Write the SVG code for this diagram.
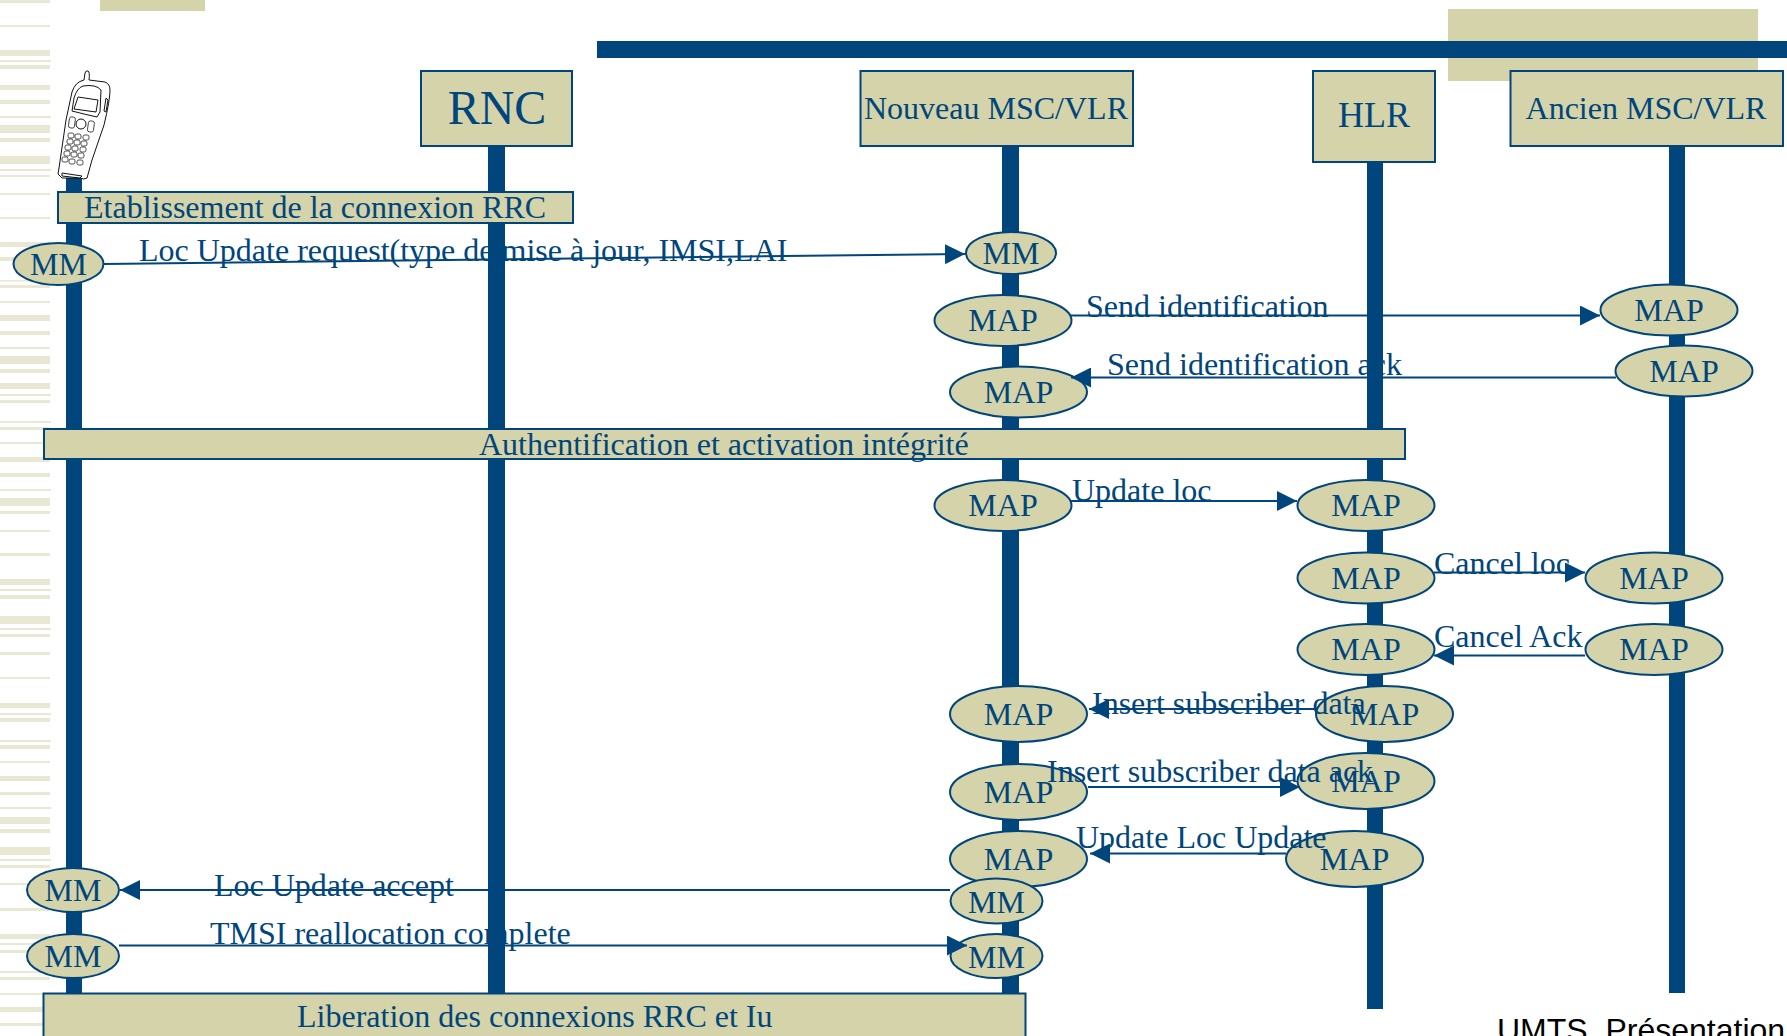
<svg xmlns="http://www.w3.org/2000/svg" width="1787" height="1036" viewBox="0 0 1787 1036">
<style>
.box{fill:#d4d3a9;stroke:#00457c;stroke-width:2}
.el{fill:#d4d3a9;stroke:#00457c;stroke-width:2}
.life{fill:#00457c}
text{font-family:"Liberation Serif","Times New Roman",serif;fill:#00457c;font-size:32px}
.mid{text-anchor:middle}
.conn{stroke:#00457c;stroke-width:2;fill:none}
.ph{fill:#fff;stroke:#111;stroke-width:1}
.k{fill:#fff;stroke:#222;stroke-width:.8}
</style>
<defs>
<marker id="arr" markerUnits="userSpaceOnUse" markerWidth="20" markerHeight="20" refX="20" refY="10" orient="auto"><path d="M0 0L20 10L0 20Z" fill="#00457c"/></marker>
<rect id="key" class="k" width="6" height="5" rx="1.8"/>
</defs>
<rect width="1787" height="1036" fill="#fff"/>
<g id="decor">
<path fill="#e8e8d4" d="M0 0h50v3H0zM0 25h50v2H0zM0 50h50v6H0zM0 60h51v2H0zM0 65h50v4H0zM0 85h50v5H0zM0 100h50v4H0zM0 116h51v2H0zM0 125h50v8H0zM0 138h50v4H0zM0 156h50v8H0zM0 169h51v2H0zM0 175h50v2H0zM0 193h50v2H0zM0 217h50v2H0zM0 242h50v5H0zM0 257h50v4H0zM0 280h50v1.500H0zM0 285h50v3H0zM0 301h50v2H0zM0 315h50v6H0zM0 331h50v4H0zM0 347h50v2H0zM0 356h50v8H0zM0 369h50v4H0zM0 383h50v6H0zM0 394h51v2H0zM0 400h50v3H0zM0 421h51v2H0zM0 427h50v3H0zM0 442h50v2H0zM0 457h50v5H0zM0 473h50v4H0zM0 489h51v2H0zM0 498h50v8H0zM0 511h50v3H0zM0 530h50v2H0zM0 553h50v3H0zM0 579h50v6H0zM0 589h51v2H0zM0 595h50v4H0zM0 616h50v8H0zM0 628h51v2H0zM0 634h50v3H0zM0 652h50v3H0zM0 677h50v2H0zM0 703h50v5H0zM0 713h51v2H0zM0 718h50v4H0zM0 740h51v2H0zM0 745h50v4H0zM0 761h50v2H0zM0 776h50v5H0zM0 792h50v3H0zM0 807h51v2H0zM0 817h50v7H0zM0 829h50v4H0zM0 847h50v8H0zM0 859h51v2H0zM0 865h50v3H0zM0 883h50v2H0zM0 908h50v3H0zM0 934h50v5H0zM0 943h51v2H0zM0 950h50v3H0zM0 971h51v2H0zM0 977h50v3H0zM0 993h50v2H0zM0 1007h50v5H0zM0 1023h50v3H0z"/>
<rect x="100" y="0" width="105" height="11" fill="#d4d3a9"/>
<rect x="1448" y="9" width="310" height="72" fill="#d4d3a9"/>
<rect x="597" y="41" width="1190" height="17" fill="#00457c"/>
</g>
<g id="labels-behind">
<text x="139" y="261">Loc Update request(type de mise à jour, IMSI,LAI</text>
<text x="1107" y="375">Send identification ack</text>
<text x="210" y="944">TMSI reallocation complete</text>
</g>
<g id="lifelines">
<rect class="life" x="66" y="170" width="16" height="830"/>
<rect class="life" x="488" y="145" width="17" height="850"/>
<rect class="life" x="1002" y="145" width="17" height="855"/>
<rect class="life" x="1367" y="160" width="16" height="849"/>
<rect class="life" x="1669" y="145" width="16" height="848"/>
</g>
<g id="phone">
<path class="ph" d="M84 80L85 73Q86 70 88 71Q90 72 89 80L105 82Q110 84 110 90Q110 100 104 125L92 160L87 178Q84 180 80 178L62 178L58 174L59 168L66 120L72 92Q75 82 84 80Z"/>
<path class="ph" fill="none" d="M83 86Q96 84 101 90L100 112L97 117L84 114L72 111L74 98Q77 88 83 86Z"/>
<path class="ph" d="M78 97L98 100L96 112L74 109Z"/>
<circle class="ph" cx="81" cy="124" r="5"/>
<rect class="k" x="69" y="117" width="6" height="11" rx="2" transform="rotate(8 72 122)"/>
<rect class="k" x="88" y="121" width="6" height="11" rx="2" transform="rotate(8 91 126)"/>
<path class="ph" d="M106 98L108 100L106 112L104 111Z"/>
<use href="#key" x="68" y="133"/><use href="#key" x="75" y="134"/><use href="#key" x="83" y="135"/>
<use href="#key" x="67" y="139"/><use href="#key" x="74" y="140"/><use href="#key" x="81" y="141"/>
<use href="#key" x="65" y="145"/><use href="#key" x="72" y="146"/><use href="#key" x="80" y="147"/>
<use href="#key" x="64" y="151"/><use href="#key" x="71" y="152"/><use href="#key" x="78" y="153"/>
<use href="#key" x="62" y="157"/><use href="#key" x="69" y="159"/><use href="#key" x="77" y="160"/>
<path class="ph" d="M62 173L82 176L80 178L62 176Z"/>
</g>
<g id="rnc"><rect class="box" x="421" y="71" width="151" height="75"/><text class="mid" x="497" y="124" style="font-size:48px">RNC</text></g>
<g id="nouveau-msc"><rect class="box" x="860.500" y="71" width="272.500" height="75"/><text class="mid" x="996" y="119">Nouveau MSC/VLR</text></g>
<g id="hlr"><rect class="box" x="1313" y="71" width="122" height="91"/><text class="mid" x="1374" y="127" style="font-size:36px">HLR</text></g>
<g id="ancien-msc"><rect class="box" x="1510.500" y="71" width="272.500" height="75"/><text class="mid" x="1646" y="119">Ancien MSC/VLR</text></g>
<g id="etablissement"><rect class="box" x="58" y="192" width="515" height="31"/><text x="84" y="218">Etablissement de la connexion RRC</text></g>
<g id="authentification"><rect class="box" x="44" y="429" width="1361" height="30"/><text x="479" y="455">Authentification et activation intégrité</text></g>
<g id="liberation"><rect class="box" x="43.500" y="993.500" width="982" height="60"/><text x="297" y="1027">Liberation des connexions RRC et Iu</text></g>
<g id="mm-a1"><ellipse class="el" cx="58.500" cy="264" rx="45" ry="21"/><text class="mid" x="58.500" y="275">MM</text></g>
<g id="mm-b1"><ellipse class="el" cx="1011" cy="253" rx="45" ry="21"/><text class="mid" x="1011" y="264">MM</text></g>
<g id="map-b1"><ellipse class="el" cx="1003" cy="320.500" rx="68.500" ry="25.500"/><text class="mid" x="1003" y="331">MAP</text></g>
<g id="map-c1"><ellipse class="el" cx="1669" cy="310" rx="68.500" ry="25.500"/><text class="mid" x="1669" y="321">MAP</text></g>
<g id="map-b2"><ellipse class="el" cx="1018.500" cy="392" rx="68.500" ry="25.500"/><text class="mid" x="1018.500" y="403">MAP</text></g>
<g id="map-c2"><ellipse class="el" cx="1684" cy="371" rx="68.500" ry="25.500"/><text class="mid" x="1684" y="382">MAP</text></g>
<g id="map-b3"><ellipse class="el" cx="1003" cy="505.500" rx="68.500" ry="25.500"/><text class="mid" x="1003" y="516">MAP</text></g>
<g id="map-h1"><ellipse class="el" cx="1366" cy="505.500" rx="68.500" ry="25.500"/><text class="mid" x="1366" y="516">MAP</text></g>
<g id="map-h2"><ellipse class="el" cx="1366" cy="578" rx="68.500" ry="25.500"/><text class="mid" x="1366" y="589">MAP</text></g>
<g id="map-c3"><ellipse class="el" cx="1654" cy="578" rx="68.500" ry="25.500"/><text class="mid" x="1654" y="589">MAP</text></g>
<g id="map-h3"><ellipse class="el" cx="1366" cy="649.500" rx="68.500" ry="25.500"/><text class="mid" x="1366" y="660">MAP</text></g>
<g id="map-c4"><ellipse class="el" cx="1654" cy="649.500" rx="68.500" ry="25.500"/><text class="mid" x="1654" y="660">MAP</text></g>
<g id="map-b4"><ellipse class="el" cx="1018.500" cy="714" rx="68.500" ry="28"/><text class="mid" x="1018.500" y="725">MAP</text></g>
<g id="map-h4"><ellipse class="el" cx="1384.500" cy="714" rx="68.500" ry="28"/><text class="mid" x="1384.500" y="725">MAP</text></g>
<g id="map-b5"><ellipse class="el" cx="1018.500" cy="792" rx="68.500" ry="28"/><text class="mid" x="1018.500" y="803">MAP</text></g>
<g id="map-h5"><ellipse class="el" cx="1366" cy="781" rx="68.500" ry="28"/><text class="mid" x="1366" y="792">MAP</text></g>
<g id="map-b6"><ellipse class="el" cx="1018.500" cy="859" rx="68.500" ry="28"/><text class="mid" x="1018.500" y="870">MAP</text></g>
<g id="map-h6"><ellipse class="el" cx="1354.500" cy="859" rx="68.500" ry="28"/><text class="mid" x="1354.500" y="870">MAP</text></g>
<g id="mm-b2"><ellipse class="el" cx="996.500" cy="901" rx="46" ry="22.500"/><text class="mid" x="996.500" y="913">MM</text></g>
<g id="mm-b3"><ellipse class="el" cx="996.500" cy="956" rx="46" ry="22"/><text class="mid" x="996.500" y="968">MM</text></g>
<g id="mm-a2"><ellipse class="el" cx="73" cy="890" rx="46" ry="22"/><text class="mid" x="73" y="901">MM</text></g>
<g id="mm-a3"><ellipse class="el" cx="73" cy="956" rx="46" ry="22"/><text class="mid" x="73" y="967">MM</text></g>
<g id="connectors">
<line class="conn" x1="104" y1="264" x2="965" y2="254" marker-end="url(#arr)"/>
<line class="conn" x1="1071" y1="315.500" x2="1600" y2="315.500" marker-end="url(#arr)"/>
<line class="conn" x1="1616" y1="377.500" x2="1071" y2="377.500" marker-end="url(#arr)"/>
<line class="conn" x1="1071" y1="501" x2="1297" y2="501" marker-end="url(#arr)"/>
<line class="conn" x1="1434" y1="572.500" x2="1585" y2="572.500" marker-end="url(#arr)"/>
<line class="conn" x1="1585" y1="655.500" x2="1434" y2="655.500" marker-end="url(#arr)"/>
<line class="conn" x1="1316" y1="709" x2="1089" y2="709" marker-end="url(#arr)"/>
<line class="conn" x1="1088" y1="787" x2="1300" y2="787" marker-end="url(#arr)"/>
<line class="conn" x1="1286" y1="853.500" x2="1090" y2="853.500" marker-end="url(#arr)"/>
<line class="conn" x1="950" y1="890" x2="120" y2="890" marker-end="url(#arr)"/>
<line class="conn" x1="119" y1="945.500" x2="967" y2="945.500" marker-end="url(#arr)"/>
</g>
<g id="labels">
<text x="1086" y="317">Send identification</text>
<text x="1072" y="501">Update loc</text>
<text x="1434" y="574">Cancel loc</text>
<text x="1434" y="647">Cancel Ack</text>
<text x="1092" y="714">Insert subscriber data</text>
<text x="1047" y="782">Insert subscriber data ack</text>
<text x="1076" y="848">Update Loc Update</text>
<text x="214" y="896">Loc Update accept</text>
<text x="1497" y="1041" style="font-family:'Liberation Sans',Arial,sans-serif;fill:#000;white-space:pre">UMTS  Présentation</text>
</g>
</svg>
